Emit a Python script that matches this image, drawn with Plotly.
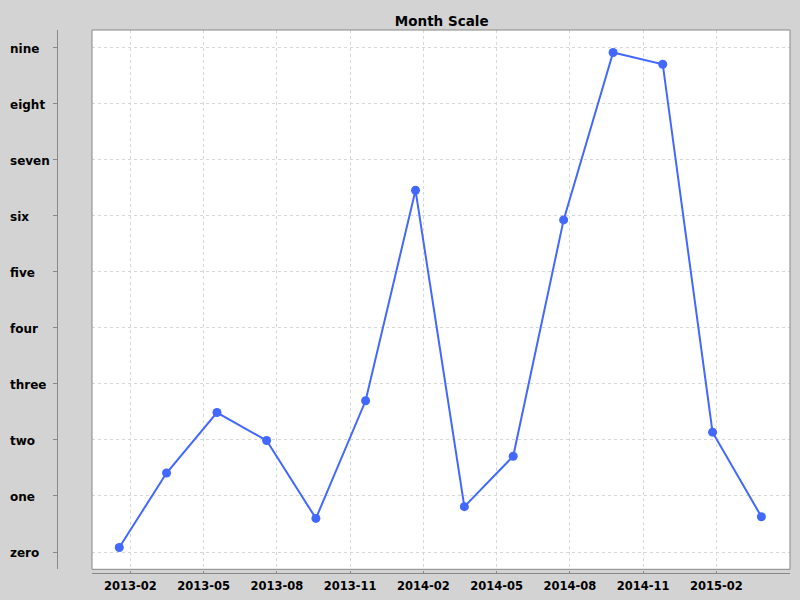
import calendar
import plotly.graph_objects as go

# ---- data ----
dates = ["2013-01-18", "2013-03-16", "2013-05-18", "2013-07-19", "2013-09-19",
         "2013-11-20", "2014-01-22", "2014-03-22", "2014-05-22", "2014-07-24",
         "2014-09-24", "2014-11-25", "2015-01-27", "2015-03-27"]
values = [0.08, 1.41, 2.49, 1.99, 0.60, 2.70, 6.46, 0.81, 1.71, 5.93,
          8.92, 8.71, 2.14, 0.63]
x_tick_labels = ["2013-02", "2013-05", "2013-08", "2013-11", "2014-02",
                 "2014-05", "2014-08", "2014-11", "2015-02"]
y_tick_values = [0, 1, 2, 3, 4, 5, 6, 7, 8, 9]
y_tick_labels = ["zero", "one", "two", "three", "four", "five", "six",
                 "seven", "eight", "nine"]
title_text = "Month Scale"
BASE_YEAR = 2013


def month_pos(s):
    """Month scale: every month has the same width (Jan 2013 = 0)."""
    parts = [int(p) for p in s.split("-")]
    y, m, d = parts[0], parts[1], parts[2]
    ndays = calendar.monthrange(y, m)[1]
    return (y - BASE_YEAR) * 12 + (m - 1) + (d - 1) / ndays


xs = [month_pos(d) for d in dates]
x_tick_vals = [month_pos(t + "-01") for t in x_tick_labels]

W, H = 800, 600
ML, MR, MT, MB = 0, 10, 30, 0
PW, PH = W - ML - MR, H - MT - MB
plot_left, plot_right, plot_top, plot_bottom = 92, 790, 30, 569.3
xaxis_y = 573.3
yaxis_x = 56.7

BLUE = "rgb(66,104,255)"
GRID = "#d6d6d6"
AXIS = "#888888"
FONT = "DejaVu Sans"

fig = go.Figure()
fig.add_trace(go.Scatter(
    x=xs, y=values, mode="lines+markers",
    line=dict(color=BLUE, width=2),
    marker=dict(color=BLUE, size=9),
    hoverinfo="skip", showlegend=False,
))

fig.update_layout(
    width=W, height=H,
    margin=dict(l=ML, r=MR, t=MT, b=MB, autoexpand=False),
    paper_bgcolor="#d3d3d3",
    plot_bgcolor="white",
    showlegend=False,
    title=dict(text=title_text, x=441.7 / W, xref="container", xanchor="center",
               y=1 - 21 / H, yref="container", yanchor="middle",
               font=dict(family=FONT, size=13.5, weight="bold", color="black")),
    xaxis=dict(
        domain=[(plot_left - ML) / PW, (plot_right - ML) / PW],
        range=[-0.568, 28.01],
        anchor="free", position=(H - MB - xaxis_y) / PH,
        tickmode="array", tickvals=x_tick_vals, ticktext=x_tick_labels,
        ticks="inside", ticklen=2, tickcolor=AXIS,
        ticklabelstandoff=2,
        showline=True, linecolor=AXIS, linewidth=1,
        showgrid=True, gridcolor=GRID, griddash="3px,3px", gridwidth=1,
        zeroline=False,
        tickfont=dict(family=FONT, size=11.5, weight="bold", color="black"),
    ),
    yaxis=dict(
        domain=[(H - MB - plot_bottom) / PH, (H - MB - plot_top) / PH],
        range=[-0.309, 9.321],
        anchor="free", position=(yaxis_x - ML) / PW,
        tickmode="array", tickvals=y_tick_values,
        showticklabels=False,
        ticks="outside", ticklen=4, tickcolor=AXIS,
        showline=True, linecolor=AXIS, linewidth=1,
        showgrid=True, gridcolor=GRID, griddash="3px,3px", gridwidth=1,
        zeroline=False,
    ),
)

# plot area border
fig.add_shape(type="rect", xref="x domain", yref="y domain",
              x0=0, x1=1, y0=0, y1=1, line=dict(color=AXIS, width=1),
              layer="above")

# left-aligned y tick labels
for v, lab in zip(y_tick_values, y_tick_labels):
    fig.add_annotation(x=(8 - ML) / PW, xref="paper", xanchor="left",
                       y=v, yref="y", yanchor="middle", yshift=-1, text=lab,
                       showarrow=False,
                       font=dict(family=FONT, size=12, weight="bold", color="black"))

fig.write_html(
    "out.html",
    config={"displayModeBar": False},
    post_script="document.body.style.margin='0';"
                "document.body.style.background='#d3d3d3';",
)
